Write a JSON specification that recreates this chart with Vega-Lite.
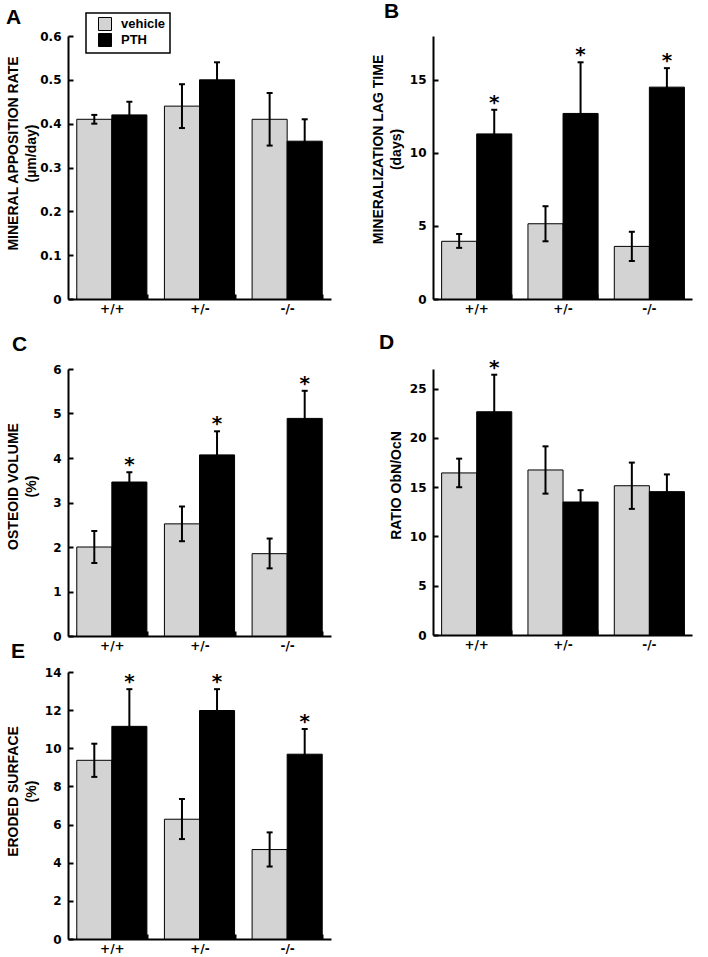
{
  "$schema": "https://vega.github.io/schema/vega-lite/v6.json",
  "padding": {"left": 6, "top": 1, "right": 5, "bottom": 0},
  "datasets": {
    "bone": [
      {"panel": "A", "g": "+/+", "t": "vehicle", "v": 0.41, "lo": 0.40, "hi": 0.42, "star": false},
      {"panel": "A", "g": "+/+", "t": "PTH", "v": 0.42, "lo": 0.39, "hi": 0.45, "star": false},
      {"panel": "A", "g": "+/-", "t": "vehicle", "v": 0.44, "lo": 0.39, "hi": 0.49, "star": false},
      {"panel": "A", "g": "+/-", "t": "PTH", "v": 0.50, "lo": 0.46, "hi": 0.54, "star": false},
      {"panel": "A", "g": "-/-", "t": "vehicle", "v": 0.41, "lo": 0.35, "hi": 0.47, "star": false},
      {"panel": "A", "g": "-/-", "t": "PTH", "v": 0.36, "lo": 0.31, "hi": 0.41, "star": false},
      {"panel": "B", "g": "+/+", "t": "vehicle", "v": 3.95, "lo": 3.5, "hi": 4.45, "star": false},
      {"panel": "B", "g": "+/+", "t": "PTH", "v": 11.3, "lo": 9.65, "hi": 12.95, "star": true},
      {"panel": "B", "g": "+/-", "t": "vehicle", "v": 5.15, "lo": 3.95, "hi": 6.35, "star": false},
      {"panel": "B", "g": "+/-", "t": "PTH", "v": 12.7, "lo": 9.2, "hi": 16.2, "star": true},
      {"panel": "B", "g": "-/-", "t": "vehicle", "v": 3.6, "lo": 2.6, "hi": 4.6, "star": false},
      {"panel": "B", "g": "-/-", "t": "PTH", "v": 14.5, "lo": 13.2, "hi": 15.8, "star": true},
      {"panel": "C", "g": "+/+", "t": "vehicle", "v": 2.0, "lo": 1.64, "hi": 2.36, "star": false},
      {"panel": "C", "g": "+/+", "t": "PTH", "v": 3.46, "lo": 3.24, "hi": 3.68, "star": true},
      {"panel": "C", "g": "+/-", "t": "vehicle", "v": 2.52, "lo": 2.13, "hi": 2.91, "star": false},
      {"panel": "C", "g": "+/-", "t": "PTH", "v": 4.07, "lo": 3.54, "hi": 4.6, "star": true},
      {"panel": "C", "g": "-/-", "t": "vehicle", "v": 1.85, "lo": 1.52, "hi": 2.19, "star": false},
      {"panel": "C", "g": "-/-", "t": "PTH", "v": 4.89, "lo": 4.27, "hi": 5.51, "star": true},
      {"panel": "D", "g": "+/+", "t": "vehicle", "v": 16.45, "lo": 15.0, "hi": 17.9, "star": false},
      {"panel": "D", "g": "+/+", "t": "PTH", "v": 22.66, "lo": 18.9, "hi": 26.42, "star": true},
      {"panel": "D", "g": "+/-", "t": "vehicle", "v": 16.75, "lo": 14.35, "hi": 19.15, "star": false},
      {"panel": "D", "g": "+/-", "t": "PTH", "v": 13.5, "lo": 12.3, "hi": 14.7, "star": false},
      {"panel": "D", "g": "-/-", "t": "vehicle", "v": 15.15, "lo": 12.8, "hi": 17.5, "star": false},
      {"panel": "D", "g": "-/-", "t": "PTH", "v": 14.55, "lo": 12.8, "hi": 16.3, "star": false},
      {"panel": "E", "g": "+/+", "t": "vehicle", "v": 9.37, "lo": 8.5, "hi": 10.24, "star": false},
      {"panel": "E", "g": "+/+", "t": "PTH", "v": 11.15, "lo": 9.2, "hi": 13.1, "star": true},
      {"panel": "E", "g": "+/-", "t": "vehicle", "v": 6.28, "lo": 5.24, "hi": 7.34, "star": false},
      {"panel": "E", "g": "+/-", "t": "PTH", "v": 11.98, "lo": 10.85, "hi": 13.1, "star": true},
      {"panel": "E", "g": "-/-", "t": "vehicle", "v": 4.69, "lo": 3.8, "hi": 5.59, "star": false},
      {"panel": "E", "g": "-/-", "t": "PTH", "v": 9.69, "lo": 8.37, "hi": 11.01, "star": true}
    ]
  },
  "vconcat": [
    {
      "columns": 2,
      "spacing": {"row": 17, "column": 40},
      "resolve": {"scale": {"color": "independent"}},
      "concat": [
        {
          "width": 263, "height": 263,
          "title": {"text": "A", "dx": -62, "offset": -16},
          "data": {"name": "bone"},
          "transform": [{"filter": "datum.panel === 'A'"}],
          "encoding": {
            "x": {"field": "g", "type": "nominal", "sort": ["+/+", "+/-", "-/-"], "title": null, "scale": {"paddingInner": 0.2, "paddingOuter": 0.1}},
            "xOffset": {"field": "t", "type": "nominal", "sort": ["vehicle", "PTH"]}
          },
          "layer": [
            {"mark": "bar", "encoding": {
              "y": {"field": "v", "type": "quantitative", "title": ["MINERAL APPOSITION RATE", "\u00a0\u00a0\u00a0\u00a0\u00a0(µm/day)"], "scale": {"domain": [0, 0.6], "nice": false}, "axis": {"values": [0, 0.1, 0.2, 0.3, 0.4, 0.5, 0.6], "tickCount": 20, "labelOverlap": false, "titleY": 117}},
              "color": {"field": "t", "type": "nominal", "sort": ["vehicle", "PTH"], "scale": {"domain": ["vehicle", "PTH"], "range": ["#d3d3d3", "#000000"]}, "legend": {"orient": "none", "legendX": 18, "legendY": -23}}
            }},
            {"mark": {"type": "rule", "strokeWidth": 2, "color": "black"}, "encoding": {"y": {"field": "lo", "type": "quantitative"}, "y2": {"field": "hi"}}},
            {"mark": {"type": "tick", "size": 6, "thickness": 2, "color": "black", "opacity": 1}, "encoding": {"y": {"field": "hi", "type": "quantitative"}}},
            {"mark": {"type": "tick", "size": 6, "thickness": 2, "color": "black", "opacity": 1}, "encoding": {"y": {"field": "lo", "type": "quantitative"}}}
          ]
        },
        {
          "width": 259, "height": 263,
          "title": {"text": "B", "dx": -49, "offset": 14},
          "data": {"name": "bone"},
          "transform": [{"filter": "datum.panel === 'B'"}],
          "encoding": {
            "x": {"field": "g", "type": "nominal", "sort": ["+/+", "+/-", "-/-"], "title": null, "scale": {"paddingInner": 0.2, "paddingOuter": 0.1}},
            "xOffset": {"field": "t", "type": "nominal", "sort": ["vehicle", "PTH"]}
          },
          "layer": [
            {"mark": "bar", "encoding": {
              "y": {"field": "v", "type": "quantitative", "title": ["MINERALIZATION LAG TIME", "(days)"], "scale": {"domain": [0, 18], "nice": false}, "axis": {"values": [0, 5, 10, 15], "tickCount": 20, "labelOverlap": false, "titleY": 113}},
              "color": {"field": "t", "type": "nominal", "sort": ["vehicle", "PTH"], "scale": {"domain": ["vehicle", "PTH"], "range": ["#d3d3d3", "#000000"]}, "legend": null}
            }},
            {"mark": {"type": "rule", "strokeWidth": 2, "color": "black"}, "encoding": {"y": {"field": "lo", "type": "quantitative"}, "y2": {"field": "hi"}}},
            {"mark": {"type": "tick", "size": 6, "thickness": 2, "color": "black", "opacity": 1}, "encoding": {"y": {"field": "hi", "type": "quantitative"}}},
            {"mark": {"type": "tick", "size": 6, "thickness": 2, "color": "black", "opacity": 1}, "encoding": {"y": {"field": "lo", "type": "quantitative"}}},
            {"transform": [{"filter": "datum.star"}], "mark": {"type": "text", "text": "*", "font": "DejaVu Sans", "fontSize": 20, "fontWeight": "bold", "baseline": "alphabetic", "dy": -1, "color": "black"}, "encoding": {"y": {"field": "hi", "type": "quantitative"}}}
          ]
        },
        {
          "width": 263, "height": 267,
          "title": {"text": "C", "dx": -56, "offset": 8},
          "data": {"name": "bone"},
          "transform": [{"filter": "datum.panel === 'C'"}],
          "encoding": {
            "x": {"field": "g", "type": "nominal", "sort": ["+/+", "+/-", "-/-"], "title": null, "scale": {"paddingInner": 0.2, "paddingOuter": 0.1}},
            "xOffset": {"field": "t", "type": "nominal", "sort": ["vehicle", "PTH"]}
          },
          "layer": [
            {"mark": "bar", "encoding": {
              "y": {"field": "v", "type": "quantitative", "title": ["OSTEOID VOLUME", "(%)"], "scale": {"domain": [0, 6], "nice": false}, "axis": {"values": [0, 1, 2, 3, 4, 5, 6], "tickCount": 20, "labelOverlap": false, "titleY": 117}},
              "color": {"field": "t", "type": "nominal", "sort": ["vehicle", "PTH"], "scale": {"domain": ["vehicle", "PTH"], "range": ["#d3d3d3", "#000000"]}, "legend": null}
            }},
            {"mark": {"type": "rule", "strokeWidth": 2, "color": "black"}, "encoding": {"y": {"field": "lo", "type": "quantitative"}, "y2": {"field": "hi"}}},
            {"mark": {"type": "tick", "size": 6, "thickness": 2, "color": "black", "opacity": 1}, "encoding": {"y": {"field": "hi", "type": "quantitative"}}},
            {"mark": {"type": "tick", "size": 6, "thickness": 2, "color": "black", "opacity": 1}, "encoding": {"y": {"field": "lo", "type": "quantitative"}}},
            {"transform": [{"filter": "datum.star"}], "mark": {"type": "text", "text": "*", "font": "DejaVu Sans", "fontSize": 20, "fontWeight": "bold", "baseline": "alphabetic", "dy": -1, "color": "black"}, "encoding": {"y": {"field": "hi", "type": "quantitative"}}}
          ]
        },
        {
          "width": 259, "height": 266,
          "title": {"text": "D", "dx": -54, "offset": 5},
          "data": {"name": "bone"},
          "transform": [{"filter": "datum.panel === 'D'"}],
          "encoding": {
            "x": {"field": "g", "type": "nominal", "sort": ["+/+", "+/-", "-/-"], "title": null, "scale": {"paddingInner": 0.2, "paddingOuter": 0.1}},
            "xOffset": {"field": "t", "type": "nominal", "sort": ["vehicle", "PTH"]}
          },
          "layer": [
            {"mark": "bar", "encoding": {
              "y": {"field": "v", "type": "quantitative", "title": [" ", "RATIO ObN/OcN"], "scale": {"domain": [0, 27], "nice": false}, "axis": {"values": [0, 5, 10, 15, 20, 25], "tickCount": 20, "labelOverlap": false, "titleY": 116}},
              "color": {"field": "t", "type": "nominal", "sort": ["vehicle", "PTH"], "scale": {"domain": ["vehicle", "PTH"], "range": ["#d3d3d3", "#000000"]}, "legend": null}
            }},
            {"mark": {"type": "rule", "strokeWidth": 2, "color": "black"}, "encoding": {"y": {"field": "lo", "type": "quantitative"}, "y2": {"field": "hi"}}},
            {"mark": {"type": "tick", "size": 6, "thickness": 2, "color": "black", "opacity": 1}, "encoding": {"y": {"field": "hi", "type": "quantitative"}}},
            {"mark": {"type": "tick", "size": 6, "thickness": 2, "color": "black", "opacity": 1}, "encoding": {"y": {"field": "lo", "type": "quantitative"}}},
            {"transform": [{"filter": "datum.star"}], "mark": {"type": "text", "text": "*", "font": "DejaVu Sans", "fontSize": 20, "fontWeight": "bold", "baseline": "alphabetic", "dy": -1, "color": "black"}, "encoding": {"y": {"field": "hi", "type": "quantitative"}}}
          ]
        }
      ]
    },
    {
      "width": 263, "height": 267,
      "title": {"text": "E", "dx": -57, "offset": 4},
      "data": {"name": "bone"},
      "transform": [{"filter": "datum.panel === 'E'"}],
      "encoding": {
        "x": {"field": "g", "type": "nominal", "sort": ["+/+", "+/-", "-/-"], "title": null, "scale": {"paddingInner": 0.2, "paddingOuter": 0.1}},
        "xOffset": {"field": "t", "type": "nominal", "sort": ["vehicle", "PTH"]}
      },
      "layer": [
        {"mark": "bar", "encoding": {
          "y": {"field": "v", "type": "quantitative", "title": ["ERODED SURFACE", "(%)"], "scale": {"domain": [0, 14], "nice": false}, "axis": {"values": [0, 2, 4, 6, 8, 10, 12, 14], "tickCount": 20, "labelOverlap": false, "titleY": 119}},
          "color": {"field": "t", "type": "nominal", "sort": ["vehicle", "PTH"], "scale": {"domain": ["vehicle", "PTH"], "range": ["#d3d3d3", "#000000"]}, "legend": null}
        }},
        {"mark": {"type": "rule", "strokeWidth": 2, "color": "black"}, "encoding": {"y": {"field": "lo", "type": "quantitative"}, "y2": {"field": "hi"}}},
        {"mark": {"type": "tick", "size": 6, "thickness": 2, "color": "black", "opacity": 1}, "encoding": {"y": {"field": "hi", "type": "quantitative"}}},
        {"mark": {"type": "tick", "size": 6, "thickness": 2, "color": "black", "opacity": 1}, "encoding": {"y": {"field": "lo", "type": "quantitative"}}},
        {"transform": [{"filter": "datum.star"}], "mark": {"type": "text", "text": "*", "font": "DejaVu Sans", "fontSize": 20, "fontWeight": "bold", "baseline": "alphabetic", "dy": -1, "color": "black"}, "encoding": {"y": {"field": "hi", "type": "quantitative"}}}
      ]
    }
  ],
  "spacing": -10,
  "resolve": {"scale": {"color": "independent"}},
  "config": {
    "font": "DejaVu Sans",
    "view": {"stroke": null},
    "bar": {"stroke": "black", "strokeWidth": 1},
    "axis": {
      "grid": false,
      "domainColor": "black", "domainWidth": 2,
      "tickColor": "black", "tickWidth": 2, "tickSize": -5,
      "labelFont": "DejaVu Sans", "labelFontWeight": "bold", "labelFontSize": 12, "labelColor": "black",
      "titleFont": "Liberation Sans", "titleFontWeight": "bold", "titleFontSize": 14, "titleColor": "black", "titleLineHeight": 18
    },
    "axisX": {"labelPadding": 9, "labelAngle": 0, "tickBand": "extent"},
    "axisY": {"labelPadding": 12, "minExtent": 28, "maxExtent": 28, "titlePadding": 2, "format": "~g", "labelOverlap": false},
    "legend": {
      "title": null, "strokeColor": "black", "strokeWidth": 1.5, "fillColor": "white", "padding": 4,
      "symbolType": "square", "symbolSize": 169, "symbolStrokeColor": "black", "symbolStrokeWidth": 1,
      "labelFont": "Liberation Sans", "labelFontWeight": "bold", "labelFontSize": 13, "labelColor": "black",
      "rowPadding": -2, "labelOffset": 9, "symbolOffset": 8
    },
    "title": {"font": "Liberation Sans", "fontSize": 21, "fontWeight": "bold", "anchor": "start", "frame": "group", "baseline": "alphabetic", "color": "black"}
  }
}
